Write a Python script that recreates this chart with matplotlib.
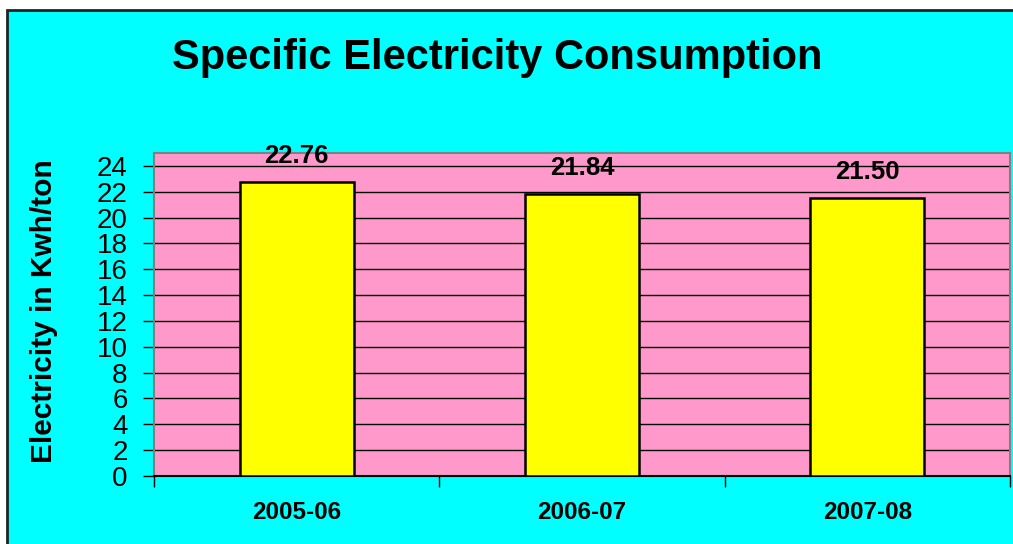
import matplotlib
matplotlib.use("Agg")
import matplotlib.pyplot as plt
from matplotlib.patches import Rectangle

plt.rcParams['font.family'] = ['Liberation Sans', 'DejaVu Sans']

# Data
years = ["2005-06", "2006-07", "2007-08"]
consumption = [22.76, 21.84, 21.50]
value_labels = ["22.76", "21.84", "21.50"]
yticks = list(range(0, 25, 2))

fig = plt.figure(figsize=(10.13, 5.44), dpi=100, facecolor='white')

# cyan chart area with dark frame on top/left
frame = Rectangle((7 / 1013, -0.1), 1.2, (534 / 544) + 0.1, transform=fig.transFigure,
                  facecolor='#00FFFF', edgecolor='#222222', linewidth=2, zorder=-10)
fig.patches.append(frame)

ax = fig.add_axes([154 / 1013, 68 / 544, 856 / 1013, 323 / 544])
ax.set_facecolor('#FF99CC')

x = list(range(len(years)))
ax.bar(x, consumption, width=0.4, color='#FFFF00', edgecolor='black', linewidth=1.8, zorder=3)

for xi, v, lab in zip(x, consumption, value_labels):
    ax.annotate(lab, (xi, v), xytext=(0, 26), textcoords='offset pixels',
                ha='center', va='center', fontsize=18.5, fontweight='bold', zorder=5)

ax.set_xlim(-0.5, 2.5)
ax.set_ylim(0, 25)
ax.set_yticks(yticks)
ax.set_yticklabels([str(t) for t in yticks], fontsize=20)
ax.tick_params(axis='y', length=8, width=1, pad=11, direction='out')

ax.set_xticks([-0.5, 0.5, 1.5, 2.5])
ax.set_xticklabels([])
ax.set_xticks(x, minor=True)
ax.set_xticklabels(years, minor=True, fontsize=17.5, fontweight='bold')
ax.tick_params(axis='x', which='major', length=8, width=1, direction='out')
ax.tick_params(axis='x', which='minor', length=0, pad=18)

for t in yticks[1:]:
    ax.axhline(t, color='black', linewidth=1, zorder=1)

for side in ['top', 'right', 'left']:
    ax.spines[side].set_color('#808080')
    ax.spines[side].set_linewidth(1.5)
ax.spines['bottom'].set_color('black')
ax.spines['bottom'].set_linewidth(1.5)

ax.set_ylabel("Electricity in Kwh/ton", fontsize=21.5, fontweight='bold')
ax.yaxis.set_label_coords(-0.112, 0.51)

fig.text(497 / 1013, 1 - 58 / 544, "Specific Electricity Consumption",
         ha='center', va='center', fontsize=30, fontweight='bold')

fig.savefig("out.png", dpi=100, facecolor=fig.get_facecolor())
